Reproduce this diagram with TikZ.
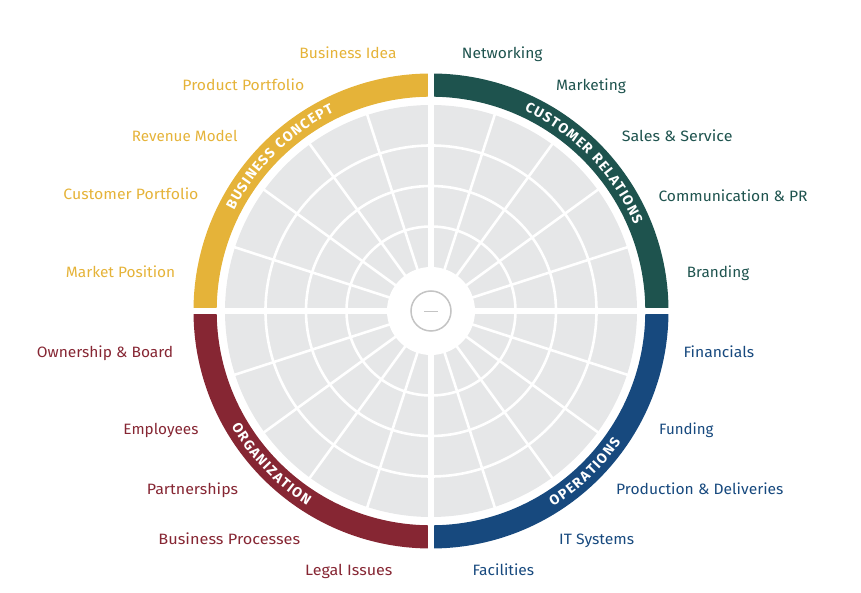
\documentclass[tikz,border=0pt]{standalone}
\usepackage{fontspec}
\usepackage{graphicx}
\setmainfont{Fira Sans}
\usetikzlibrary{decorations.text}
\definecolor{cyel}{HTML}{E5B339}
\definecolor{cgrn}{HTML}{1E534E}
\definecolor{cred}{HTML}{862633}
\definecolor{cblu}{HTML}{17497E}
\definecolor{cgry}{HTML}{E6E7E8}
\definecolor{cmid}{HTML}{C4C4C4}
\newcommand\ringfnt{\fontsize{14}{16}\selectfont\bfseries}
\begin{document}
\begin{tikzpicture}[x=1pt,y=1pt,
  lbl/.style={inner sep=0pt, anchor=base west, font=\fontsize{15}{18}\selectfont},
  wline/.style={white, line width=2.6pt},
  ringlbl/.style={decorate, decoration={text along path, text color=white, text align={fit to path}, text={|\ringfnt|#1}}}]
\useasboundingbox (-431,-282) rectangle (430,311);
% coloured ring quadrants
\def\ro{237.5}\def\ri{214.3}
\fill[cyel] (90:\ro) arc[start angle=90, end angle=180, radius=\ro pt] -- (180:\ri) arc[start angle=180, end angle=90, radius=\ri pt] -- cycle;
\fill[cgrn] (0:\ro) arc[start angle=0, end angle=90, radius=\ro pt] -- (90:\ri) arc[start angle=90, end angle=0, radius=\ri pt] -- cycle;
\fill[cred] (180:\ro) arc[start angle=180, end angle=270, radius=\ro pt] -- (270:\ri) arc[start angle=270, end angle=180, radius=\ri pt] -- cycle;
\fill[cblu] (270:\ro) arc[start angle=270, end angle=360, radius=\ro pt] -- (360:\ri) arc[start angle=360, end angle=270, radius=\ri pt] -- cycle;
% grey disk with white grid
\fill[cgry] (0,0) circle (206);
\draw[wline] (0,0) circle (84.5) (0,0) circle (125) (0,0) circle (165.5);
\foreach \a in {0,18,...,342} \draw[wline] (\a:40) -- (\a:207);
\fill[white] (0,0) circle (44);
% cross gaps
\fill[white] (-3.3,-240) rectangle (3.3,240);
\fill[white] (-240,-3.3) rectangle (240,3.3);
% centre button
\draw[cmid, line width=1.5pt] (0,0) circle (20);
\draw[cmid, line width=1.3pt] (-6.8,-0.7) -- (6.8,-0.7);
% ring captions
\path[ringlbl={BUSINESS CONCEPT}] (153:221) arc[start angle=153, end angle=116, radius=221pt];
\path[ringlbl={CUSTOMER RELATIONS}] (65:221) arc[start angle=65, end angle=23, radius=221pt];
\path[ringlbl={ORGANIZATION}] (210:230.5) arc[start angle=210, end angle=237.5, radius=230.5pt];
\path[ringlbl={OPERATIONS}] (302:230.5) arc[start angle=302, end angle=325.5, radius=230.5pt];
% labels: business concept
\node[lbl, text=cyel] (l1) at (-131.7,252.3) {\resizebox{97pt}{\height}{Business Idea}};
\node[lbl, text=cyel] (l2) at (-248.7,220.3) {\resizebox{121.7pt}{\height}{Product Portfolio}};
\node[lbl, text=cyel] (l3) at (-299.3,169.1) {\resizebox{105.6pt}{\height}{Revenue Model}};
\node[lbl, text=cyel] (l4) at (-367.7,111.8) {\resizebox{135pt}{\height}{Customer Portfolio}};
\node[lbl, text=cyel] (l5) at (-365.3,33.1) {\resizebox{109.3pt}{\height}{Market Position}};
% customer relations
\node[lbl, text=cgrn] (r1) at (30.7,252.3) {\resizebox{80.6pt}{\height}{Networking}};
\node[lbl, text=cgrn] (r2) at (125,220.1) {\resizebox{69.7pt}{\height}{Marketing}};
\node[lbl, text=cgrn] (r3) at (190.7,169.1) {\resizebox{110.6pt}{\height}{Sales \& Service}};
\node[lbl, text=cgrn] (r4) at (227.3,109.8) {\resizebox{149pt}{\height}{Communication \& PR}};
\node[lbl, text=cgrn] (r5) at (255.7,33.1) {\resizebox{62.3pt}{\height}{Branding}};
% organization
\node[lbl, text=cred] (o1) at (-394.3,-46.9) {\resizebox{136.3pt}{\height}{Ownership \& Board}};
\node[lbl, text=cred] (o2) at (-307.7,-123.2) {\resizebox{75pt}{\height}{Employees}};
\node[lbl, text=cred] (o3) at (-284.3,-183.5) {\resizebox{91.3pt}{\height}{Partnerships}};
\node[lbl, text=cred] (o4) at (-272.7,-233.5) {\resizebox{141.7pt}{\height}{Business Processes}};
\node[lbl, text=cred] (o5) at (-126,-264.9) {\resizebox{87.3pt}{\height}{Legal Issues}};
% operations
\node[lbl, text=cblu] (p1) at (252.3,-46.9) {\resizebox{70.7pt}{\height}{Financials}};
\node[lbl, text=cblu] (p2) at (228,-123.2) {\resizebox{54.3pt}{\height}{Funding}};
\node[lbl, text=cblu] (p3) at (185,-183.5) {\resizebox{167.3pt}{\height}{Production \& Deliveries}};
\node[lbl, text=cblu] (p4) at (128,-233.5) {\resizebox{75pt}{\height}{IT Systems}};
\node[lbl, text=cblu] (p5) at (41.3,-264.9) {\resizebox{61.7pt}{\height}{Facilities}};
\end{tikzpicture}
\end{document}
